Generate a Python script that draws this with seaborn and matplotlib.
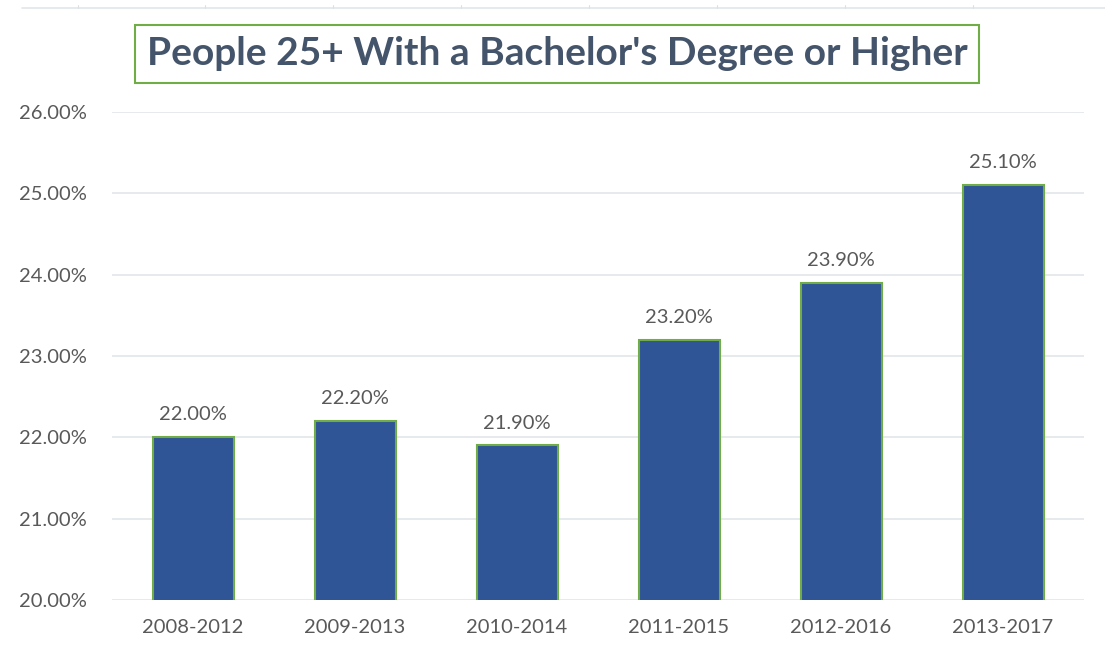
import pandas as pd
import seaborn as sns
import matplotlib.pyplot as plt
from matplotlib.lines import Line2D

# Dados
periodos = ['2008-2012', '2009-2013', '2010-2014', '2011-2015', '2012-2016', '2013-2017']
valores = [22.0, 22.2, 21.9, 23.2, 23.9, 25.1]
ticks_y = [20, 21, 22, 23, 24, 25, 26]

dados = pd.DataFrame({'periodo': periodos, 'valor': valores})

sns.set_style("white")
plt.rcParams['font.family'] = ['Lato', 'DejaVu Sans']

cinza = '#595959'

f = plt.figure(figsize=(11.05, 6.56), dpi=100)
ax = f.add_axes([0.1014, 0.0854, 0.8796, 0.7439])

sns.barplot(x='periodo', y='valor', data=dados, color='#2F5597', width=0.5,
            edgecolor='#70AD47', linewidth=1.5, saturation=1, ax=ax, zorder=3)

ax.set_ylim(20, 26)
ax.set_xlim(-0.5, len(periodos) - 0.5)
ax.set_yticks(ticks_y)
ax.set_yticklabels([f'{v:.2f}%' for v in ticks_y])
ax.yaxis.grid(True, color='#E3E6EA', linewidth=1.2, zorder=0)
ax.set_axisbelow(True)
for s in ax.spines.values():
    s.set_visible(False)
ax.tick_params(axis='both', length=0, labelsize=14.5, labelcolor=cinza)
ax.tick_params(axis='y', pad=18)
ax.tick_params(axis='x', pad=14)
ax.set_xlabel('')
ax.set_ylabel('')

# Rótulos das barras
for i, v in enumerate(valores):
    ax.text(i, v + 0.17, f'{v:.2f}%', ha='center', va='bottom', fontsize=14.5, color=cinza)

# Título com caixa
f.text(0.504, 0.918, "People 25+ With a Bachelor's Degree or Higher", ha='center', va='center',
       fontsize=28, fontweight='bold', color='#44546A',
       bbox=dict(boxstyle='square,pad=0.3', facecolor='white', edgecolor='#70AD47', linewidth=1.5))

# Linha fina no topo (grade da planilha)
f.add_artist(Line2D([0.02, 1.0], [0.988, 0.988], color='#E3E6EA', linewidth=1.2))
for xp in [78, 205, 333, 461, 589, 717, 845, 973]:
    f.add_artist(Line2D([xp / 1105, xp / 1105], [0.988, 0.993], color='#DDE0E5', linewidth=0.8))

f.savefig('out.png', dpi=100)
